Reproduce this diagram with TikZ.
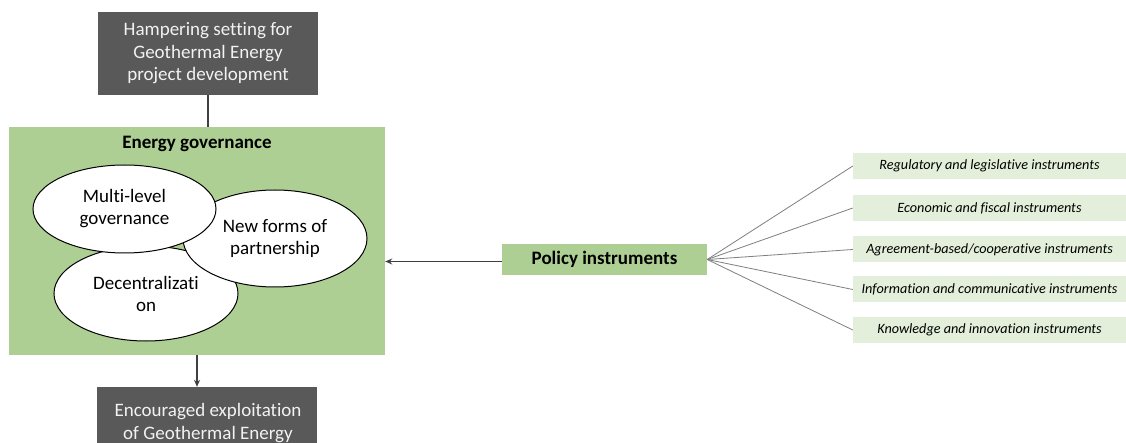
\documentclass[tikz,border=0pt]{standalone}
\usepackage{fontspec}
\setmainfont{Carlito}[Ligatures={NoCommon}]
\usetikzlibrary{shapes.geometric,arrows.meta}
\definecolor{darkbox}{HTML}{595959}
\definecolor{govgreen}{HTML}{AECF93}
\definecolor{lightgreen}{HTML}{E3EFDA}
\definecolor{linegray}{HTML}{404040}
\definecolor{fangray}{HTML}{7F7F7F}
\tikzset{
  darkstyle/.style={rectangle, fill=darkbox, text=white!95!black, font=\fontsize{19}{22.5}\selectfont, align=center, inner sep=0pt},
  greenbox/.style={rectangle, fill=govgreen, inner sep=0pt},
  circ/.style={ellipse, draw=black, line width=1pt, fill=white, inner sep=0pt, align=center, font=\fontsize{19}{22}\selectfont},
  instr/.style={rectangle, fill=lightgreen, minimum width=273pt, minimum height=26pt, inner sep=0pt, font=\fontsize{14.2}{16}\selectfont\itshape},
  conn/.style={draw=linegray, line width=1.2pt},
  arr/.style={conn, -{Stealth[length=7pt,width=6pt]}},
  fan/.style={draw=fangray, line width=0.8pt}
}
\begin{document}
\begin{tikzpicture}[x=1pt,y=-1pt]
\useasboundingbox (0,0) rectangle (1126,443);
\clip (0,0) rectangle (1126,443);
\fill[white] (0,0) rectangle (1126,443);
% top and bottom boxes
\node[darkstyle, minimum width=220pt, minimum height=83pt] (top) at (208,53.5) {Hampering setting for\\Geothermal Energy\\project development};
\node[darkstyle, minimum width=220pt, minimum height=70pt] (bottom) at (207,422) {};
\node[darkstyle] (bottomtext) at (208,423) {Encouraged exploitation\\of Geothermal Energy};
% governance box
\node[greenbox, minimum width=376pt, minimum height=228pt] (gov) at (197,241) {};
\node[font=\fontsize{19}{22}\selectfont\bfseries] (govlabel) at (197,144) {Energy governance};
\node[circ, minimum width=184pt, minimum height=95pt] (dec) at (146,293.5) {Decentralizati\\on};
\node[circ, minimum width=184pt, minimum height=97pt] (new) at (275,238.5) {New forms of\\partnership};
\node[circ, minimum width=183pt, minimum height=88pt] (multi) at (124.5,209) {Multi-level\\governance};
% policy instruments
\node[greenbox, minimum width=205pt, minimum height=31pt, font=\fontsize{19}{22}\selectfont\bfseries] (policy) at (604.5,259.5) {Policy instruments};
\node[instr] (i1) at (989.5,166) {Regulatory and legislative instruments};
\node[instr] (i2) at (989.5,208) {Economic and fiscal instruments};
\node[instr] (i3) at (989.5,249.5) {Agreement-based/cooperative instruments};
\node[instr] (i4) at (989.5,289.5) {Information and communicative instruments};
\node[instr] (i5) at (989.5,330) {Knowledge and innovation instruments};
% connectors
\draw[conn] (top.south) -- (top.south |- gov.north);
\draw[arr] (gov.south) -- (gov.south |- bottom.north);
\draw[arr] ([yshift=-2pt]policy.west) -- ([yshift=-2pt]policy.west -| gov.east);
\foreach \i in {i1,i2,i3,i4,i5} {\draw[fan] (policy.east) -- (\i.west);}
\end{tikzpicture}
\end{document}
